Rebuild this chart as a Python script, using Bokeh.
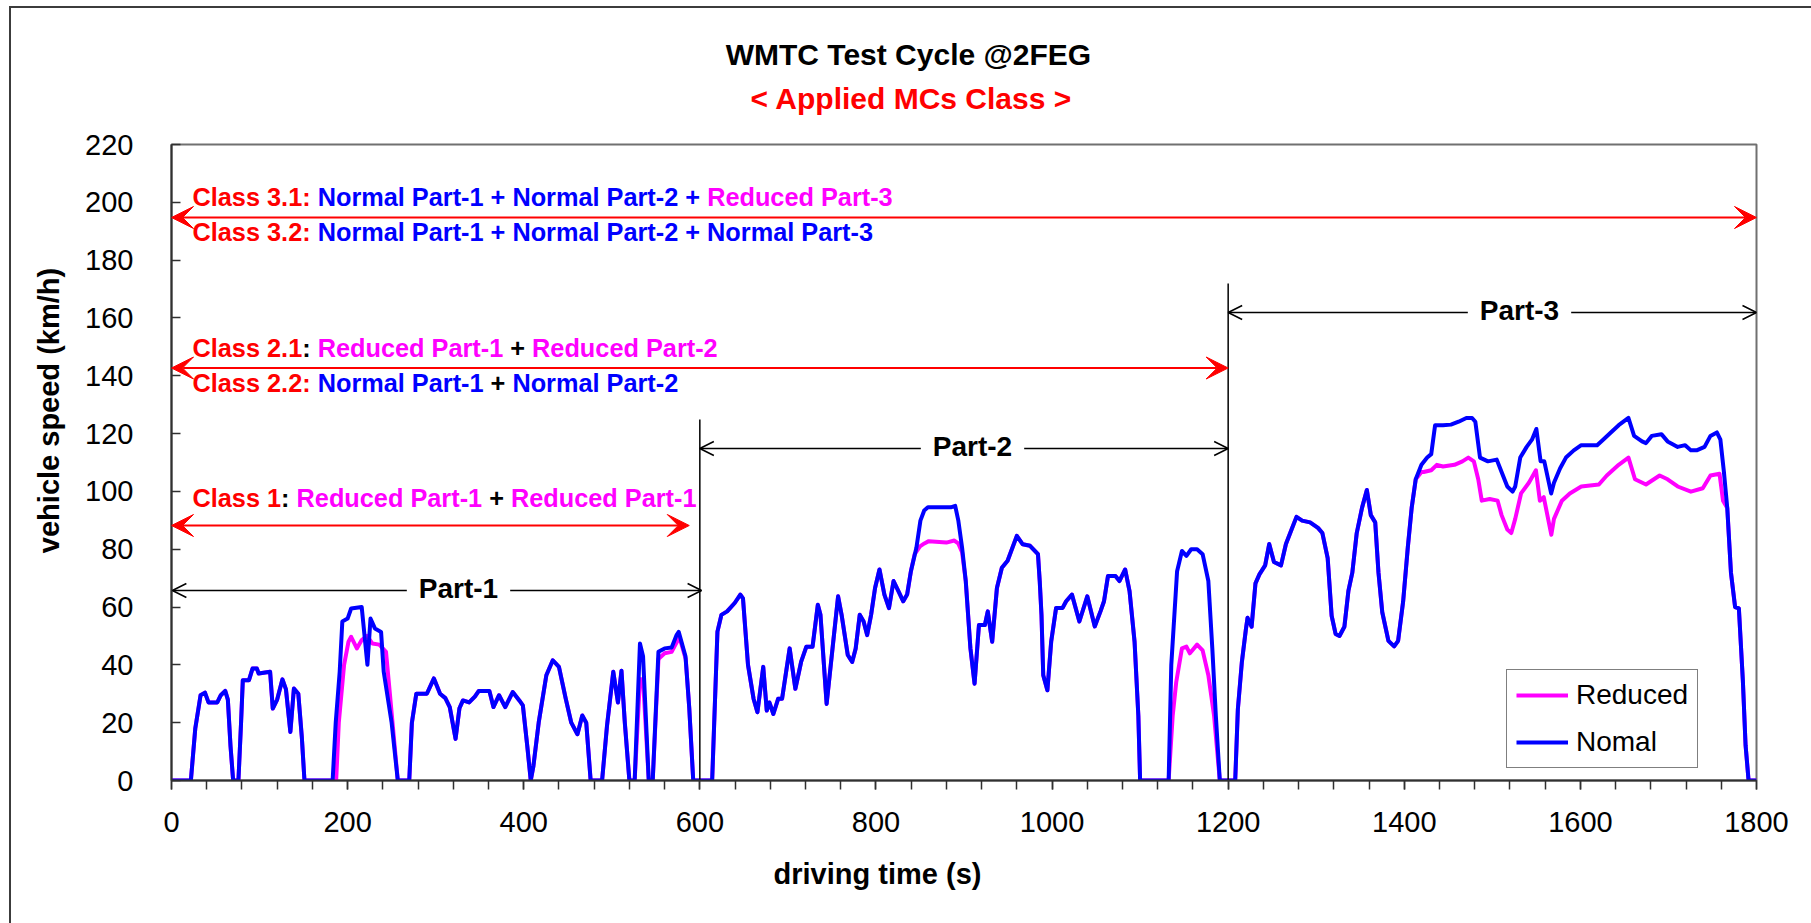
import math
from bokeh.plotting import figure
from bokeh.models import Range1d, FixedTicker, Label, Arrow, VeeHead, OpenHead, Title
from bokeh.embed import file_html
from bokeh.resources import INLINE

# ---------------- data ----------------
normal_t = [0, 22, 27, 33, 38, 42, 52, 56, 61, 64, 67, 70, 76, 79, 81, 88, 92, 97, 99, 112, 115, 120, 126, 130, 135, 139, 144, 148, 151,
            183, 186.5, 191, 194, 200, 204, 216, 222.5, 226, 231, 238, 241, 250, 257, 270, 273, 278, 290, 298, 305, 311, 316, 322.6,
            327, 331, 338, 344.5, 349, 361, 365.6, 372, 379, 387.5, 395, 399, 404, 408, 411, 417, 425.7, 433, 440, 447.7, 454, 461,
            466.5, 471, 476, 489, 494.6, 501.7, 507, 511, 514.8, 520, 526, 532, 535.5, 542, 546.5, 553, 560, 568, 573.6, 576, 583.7,
            588, 592.5, 614,
            620, 624.5, 631, 639.6, 646, 649, 654.7, 661, 665.4, 672, 676, 679, 683.5, 689, 693.4, 702, 708.5, 715, 721, 728, 734,
            737, 744, 751.5, 757, 761, 768, 773, 777, 781.6, 786, 790, 794.5, 799, 804, 809.6, 814.8, 820, 825.5, 831, 835.4, 839.7,
            846, 850.5, 854.8, 859, 885, 890, 893.5, 897.8, 902, 907.3, 912, 917, 923.7, 927, 932, 937.4, 943, 949.5, 960, 966.7,
            975, 984, 986, 988, 990, 994.7, 999, 1004.6, 1012, 1016, 1022.6, 1031, 1040, 1048.5, 1055, 1059, 1063.5, 1072, 1076.5,
            1083, 1088, 1093.7, 1098, 1100, 1132.4, 1135.4, 1142, 1147.5, 1152.6, 1158, 1164.7, 1171, 1177.5, 1182, 1186, 1190.5,
            1205.6, 1208, 1211, 1215.5, 1220, 1222, 1226.6, 1231, 1235.5, 1242, 1246.6, 1252, 1260, 1265.6, 1272, 1277.6, 1284, 1293,
            1302, 1307, 1313, 1317.5, 1322, 1326.4, 1332, 1336.6, 1341, 1346, 1352, 1357.5, 1362, 1367, 1370.7, 1375, 1382, 1388.5,
            1393, 1398.7, 1404, 1408.4, 1413, 1419.5, 1426, 1430.6, 1435, 1444, 1453, 1461.7, 1470.5, 1477, 1480.7, 1486, 1495,
            1505, 1510.5, 1517, 1523, 1526, 1531.7, 1539, 1545, 1550, 1554.8, 1559, 1566.8, 1570, 1577, 1583.6, 1592.5, 1601, 1619,
            1625.8, 1634.6, 1643.5, 1654.6, 1661, 1670, 1674.5, 1681, 1692, 1699, 1710.5, 1719, 1725.5, 1732, 1741, 1747.7, 1755,
            1759, 1763, 1766.8, 1771, 1775.7, 1780, 1784.5, 1787.6, 1791, 1800]
normal_v = [0, 0, 18, 29.5, 30.4, 27, 27, 29.5, 31, 28, 12, 0, 0, 20, 34.7, 34.7, 38.7, 38.7, 37, 37.6, 24.9, 28, 35, 31.5, 16.8, 31.8, 30, 15, 0,
            0, 20, 37.6, 55, 56, 59.5, 60, 40, 56, 52.6, 51.4, 37.6, 20, 0, 0, 20, 30, 30, 35.3, 30, 28.5, 25.4, 14.4,
            25, 27.7, 27, 29, 31, 31, 25.4, 29.5, 25.4, 30.6, 27.7, 26, 12, 0, 5, 20, 36.4, 41.6, 39.3, 28.3, 20, 16,
            22.5, 20, 0, 0, 19, 37.6, 27, 38, 20, 0, 0, 47.4, 43, 0, 0, 44.5, 45.7, 46, 50.3, 51.4, 43,
            25, 0, 0,
            51.5, 57.3, 58.5, 61.4, 64.3, 63, 40, 28.3, 23.6, 39.3, 24.2, 27, 23, 28.3, 28.3, 45.7, 31.7, 41, 46.3, 46.3, 60.8,
            57.3, 26.5, 48, 63.7, 57.3, 43.4, 41, 45.7, 57.3, 55, 50.3, 57.3, 66.6, 73, 64.3, 59.6, 69, 65.5, 62, 64.3, 72.4,
            80.6, 89.9, 93.4, 94.5, 94.5, 95, 90, 80.6, 69, 45.7, 33.5, 53.8, 53.8, 58.5, 48, 66.6, 73.6, 76, 84.6, 81.7,
            81.2, 78.3, 69, 57.3, 36.4, 31.2, 48, 59.7, 59.7, 62, 64.3, 55, 63.7, 53.3, 58.5, 62, 70.7, 70.7, 69,
            73, 65.5, 48, 22.4, 0, 0, 40, 72.4, 79.4, 77.7, 80, 80, 78.3, 69, 45.7, 22.4, 0,
            0, 0, 24.6, 40.8, 52, 56.3, 53.2, 68.2, 71.3, 74.4, 81.8, 75.6, 74.4, 81.8, 86.8, 91.2, 89.9, 89.3,
            87.4, 85.6, 76.9, 57, 50.7, 50, 53.2, 65.7, 71.9, 85.6, 94.3, 100.5, 91.8, 89.3, 71.9, 58.2, 48.3, 46.4,
            48.3, 61.9, 80.6, 94.3, 104.2, 109.2, 111.7, 112.9, 122.9, 122.9, 123.1, 124.1, 125.4, 125.4, 124.1, 111.7, 110.4,
            111, 106.7, 101.7, 99.9, 101.7, 111.7, 115.4, 117.9, 121.6, 110.4, 110.4, 99.3, 103, 108, 111.7, 114.2, 116, 116,
            117.9, 120.4, 122.9, 125.4, 119.2, 117.3, 116.7, 119.2, 119.8, 117.3, 115.4, 116, 114.2, 114.2, 115.4, 119.2, 120.4,
            117.9, 106.7, 94.3, 71.9, 60, 59.5, 34.6, 12.2, 0, 0]

reduced_t = [0, 22, 27, 33, 38, 42, 52, 56, 61, 64, 67, 70, 76, 79, 81, 88, 92, 97, 99, 112, 115, 120, 126, 130, 135, 139, 144, 148, 151,
             187, 190, 196, 201, 204, 210.5, 216, 222, 228, 236, 243.6, 248, 254, 257, 270, 273, 278, 290, 298, 305, 311, 316, 322.6,
             327, 331, 338, 344.5, 349, 361, 365.6, 372, 379, 387.5, 395, 399, 404, 408, 411, 417, 425.7, 433, 440, 447.7, 454, 461,
             466.5, 471, 476, 489, 494.6, 501.7, 507, 511, 514.8, 520, 526, 532, 535.5, 542, 546.5, 553, 560, 568, 574, 577, 584,
             588, 592.5, 614,
             620, 624.5, 631, 639.6, 646, 649, 654.7, 661, 665.4, 672, 676, 679, 683.5, 689, 693.4, 702, 708.5, 715, 721, 728, 734,
             737, 744, 751.5, 757, 761, 768, 773, 777, 781.6, 786, 790, 794.5, 799, 804, 809.6, 814.8, 820, 825.5, 831, 835.4, 839.7,
             844, 850, 855, 860, 880, 889, 893.5, 897.8, 902, 907.3, 912, 917, 923.7, 927, 932, 937.4, 943, 949.5, 960, 966.7,
             975, 984, 986, 988, 990, 994.7, 999, 1004.6, 1012, 1016, 1022.6, 1031, 1040, 1048.5, 1055, 1059, 1063.5, 1072, 1076.5,
             1083, 1088, 1093.7, 1098, 1100, 1132.4, 1137, 1141, 1147.5, 1152.6, 1156.5, 1164.7, 1171, 1177.5, 1184, 1190.5,
             1205.6, 1208, 1211, 1215.5, 1220, 1222, 1226.6, 1231, 1235.5, 1242, 1246.6, 1252, 1260, 1265.6, 1272, 1277.6, 1284, 1293,
             1302, 1307, 1313, 1317.5, 1322, 1326.4, 1332, 1336.6, 1341, 1346, 1352, 1357.5, 1362, 1367, 1370.7, 1375, 1382, 1388.5,
             1393, 1398.7, 1404, 1408.4, 1413, 1419.5, 1422, 1430.6, 1437, 1444, 1457, 1466, 1472.7, 1479, 1484, 1488, 1497,
             1506, 1510.5, 1517, 1521.5, 1526, 1532.6, 1541.5, 1549.5, 1554, 1558.4, 1567, 1570, 1579, 1588, 1601, 1621,
             1630, 1643.5, 1654.6, 1662, 1674.5, 1690, 1699, 1710.5, 1725.5, 1739, 1747.7, 1758, 1762,
             1766.8, 1771, 1775.7, 1780, 1784.5, 1787.6, 1791, 1800]
reduced_v = [0, 0, 18, 29.5, 30.4, 27, 27, 29.5, 31, 28, 12, 0, 0, 20, 34.7, 34.7, 38.7, 38.7, 37, 37.6, 24.9, 28, 35, 31.5, 16.8, 31.8, 30, 15, 0,
             0, 20, 40, 48, 49.7, 45.7, 48.6, 50, 47.4, 47, 44.5, 30, 10, 0, 0, 20, 30, 30, 35.3, 30, 28.5, 25.4, 14.4,
             25, 27.7, 27, 29, 31, 31, 25.4, 29.5, 25.4, 30.6, 27.7, 26, 12, 0, 5, 20, 36.4, 41.6, 39.3, 28.3, 20, 16,
             22.5, 20, 0, 0, 19, 37.6, 27, 38, 20, 0, 0, 35, 35, 0, 0, 42, 44, 44.5, 48, 49.5, 42,
             25, 0, 0,
             51.5, 57.3, 58.5, 61.4, 64.3, 63, 40, 28.3, 23.6, 39.3, 24.2, 27, 23, 28.3, 28.3, 45.7, 31.7, 41, 46.3, 46.3, 60.8,
             57.3, 26.5, 48, 63.7, 57.3, 43.4, 41, 45.7, 57.3, 55, 50.3, 57.3, 66.6, 73, 64.3, 59.6, 69, 65.5, 62, 64.3, 72.4,
             78.3, 81, 82, 82.8, 82.3, 83, 82, 79, 69, 45.7, 33.5, 53.8, 53.8, 58.5, 48, 66.6, 73.6, 76, 84.6, 81.7,
             81.2, 78.3, 69, 57.3, 36.4, 31.2, 48, 59.7, 59.7, 62, 64.3, 55, 63.7, 53.3, 58.5, 62, 70.7, 70.7, 69,
             73, 65.5, 48, 22.4, 0, 0, 22.4, 34, 45.7, 46.3, 44, 47, 45, 36.4, 22.4, 0,
             0, 0, 24.6, 40.8, 52, 56.3, 53.2, 68.2, 71.3, 74.4, 81.8, 75.6, 74.4, 81.8, 86.8, 91.2, 89.9, 89.3,
             87.4, 85.6, 76.9, 57, 50.7, 50, 53.2, 65.7, 71.9, 85.6, 94.3, 100.5, 91.8, 89.3, 71.9, 58.2, 48.3, 46.4,
             48.3, 61.9, 80.6, 94.3, 104.2, 106.7, 106.7, 107.3, 109.2, 108.6, 109.2, 110.4, 111.7, 110.4, 104.2, 96.8, 97.4,
             96.8, 91.8, 86.8, 85.6, 90.5, 99.3, 103, 107.3, 96.8, 98, 85, 90.5, 96.8, 99.3, 101.7, 102.4,
             105.5, 109.2, 111.7, 104.2, 102.4, 105.5, 104.2, 101.7, 99.9, 101.1, 105.5, 106.1, 96.8,
             94.3, 71.9, 60, 59.5, 34.6, 12.2, 0, 0]

x_ticks = [0, 200, 400, 600, 800, 1000, 1200, 1400, 1600, 1800]
x_minor_ticks = [0, 40, 80, 120, 160, 200, 240, 280, 320, 360, 400, 440, 480, 520, 560, 600, 640, 680, 720, 760, 800,
                 840, 880, 920, 960, 1000, 1040, 1080, 1120, 1160, 1200, 1240, 1280, 1320, 1360, 1400, 1440, 1480,
                 1520, 1560, 1600, 1640, 1680, 1720, 1760, 1800]
y_ticks = [0, 20, 40, 60, 80, 100, 120, 140, 160, 180, 200, 220]

part_bounds = [0, 600, 1200, 1800]
part_names = ["Part-1", "Part-2", "Part-3"]
series_names = ["Reduced", "Nomal"]

title_text = "WMTC Test Cycle @2FEG"
subtitle_text = "< Applied MCs Class >"
x_label = "driving time (s)"
y_label = "vehicle speed (km/h)"

# ---------------- layout ----------------
RED, BLUE, MAG, BLK = "#FF0000", "#0000FF", "#FF00FF", "#000000"
FONT = "Liberation Sans"
W, H = 1811, 923
BL, BT = 171, 144
FW, FH = 1585, 636
BR, BB = W - BL - FW, H - BT - FH
PX0, PY1 = BL, BT + FH  # page px of frame left / bottom


def tx(px):
    return (px - PX0) / FW * 1800.0


def vy(py):
    return (PY1 - py) / FH * 220.0


AB = {' ': 278, '+': 584, '-': 333, '.': 278, ':': 333, '(': 333, ')': 333, '/': 278, '@': 975, '<': 584, '>': 584,
      'A': 722, 'C': 722, 'E': 667, 'F': 611, 'G': 778, 'M': 833, 'N': 722, 'P': 667, 'R': 722, 'T': 611, 'W': 944,
      'a': 556, 'c': 556, 'd': 611, 'e': 556, 'l': 278, 'm': 889, 'o': 611, 'r': 389, 's': 556, 't': 333,
      'u': 611, 'i': 278, 'p': 611, 'y': 556, 'v': 556, 'n': 611, 'g': 611, 'h': 611, 'k': 556}
for _d in "0123456789":
    AB[_d] = 556


def bw(s, size):
    return sum(AB.get(c, 556) for c in s) / 1000.0 * size


p = figure(width=W, height=H, output_backend="svg", toolbar_location=None,
           x_range=Range1d(0, 1800), y_range=Range1d(0, 220),
           min_border_left=BL, min_border_right=BR, min_border_top=BT, min_border_bottom=BB)
p.background_fill_color = "white"
p.border_fill_color = "white"
p.border_fill_alpha = 0.0
p.styles = {"background": "linear-gradient(#3c3c3c, #3c3c3c) 9px 6px / 2px 100% no-repeat, "
                          "linear-gradient(#3c3c3c, #3c3c3c) 9px 6px / 100% 2px no-repeat, white"}
p.outline_line_color = "#707070"
p.outline_line_width = 2
p.xgrid.visible = False
p.ygrid.visible = False

xa = p.xaxis[0]
xa.ticker = FixedTicker(ticks=x_ticks, minor_ticks=x_minor_ticks)
xa.major_tick_in, xa.major_tick_out = 0, 9
xa.minor_tick_in, xa.minor_tick_out = 0, 9
xa.major_label_standoff = 22
ya = p.yaxis[0]
ya.ticker = FixedTicker(ticks=y_ticks, minor_ticks=[])
ya.major_tick_in, ya.major_tick_out = 9, 0
ya.minor_tick_in, ya.minor_tick_out = 0, 0
ya.major_label_standoff = 38
for ax in (xa, ya):
    ax.axis_line_color = "#303030"
    ax.axis_line_width = 2
    ax.major_tick_line_color = "#303030"
    ax.major_tick_line_width = 1.5
    ax.minor_tick_line_color = "#303030"
    ax.minor_tick_line_width = 1.5
    ax.major_label_text_font = FONT
    ax.major_label_text_font_size = "29px"
    ax.major_label_text_color = "black"

# series
p.line(reduced_t, reduced_v, line_color=MAG, line_width=4, line_join="round", legend_label=series_names[0])
p.line(normal_t, normal_v, line_color=BLUE, line_width=4, line_join="round", legend_label=series_names[1])

lg = p.legend[0]
lg.location = (1335, 12)
lg.label_text_font = FONT
lg.label_text_font_size = "28px"
lg.label_text_color = "black"
lg.glyph_width = 52
lg.glyph_height = 28
lg.label_height = 28
lg.spacing = 15
lg.padding = 9
lg.margin = 0
lg.label_standoff = 8
lg.border_line_color = "black"
lg.border_line_width = 1
lg.background_fill_color = "white"
lg.background_fill_alpha = 1.0

# part boundary lines
p.segment(x0=[part_bounds[1], part_bounds[2]], y0=[0, 0],
          x1=[part_bounds[1], part_bounds[2]], y1=[vy(419), vy(283)],
          line_color=BLK, line_width=1.5)

# part arrows with labels
part_rows = [(vy(590), part_bounds[0] + 1, part_bounds[1] + 2, tx(458)),
             (vy(448), part_bounds[1], part_bounds[2], tx(972)),
             (vy(312), part_bounds[2], part_bounds[3], tx(1519))]
PSZ = 28
for (yy, xs, xe, xc), name in zip(part_rows, part_names):
    half = (bw(name, PSZ) / 2 + 12) / FW * 1800
    p.add_layout(Arrow(x_start=xc - half, y_start=yy, x_end=xs, y_end=yy,
                       start=None, end=OpenHead(size=14, line_width=1.5, line_color=BLK),
                       line_color=BLK, line_width=1.5))
    p.add_layout(Arrow(x_start=xc + half, y_start=yy, x_end=xe, y_end=yy,
                       start=None, end=OpenHead(size=14, line_width=1.5, line_color=BLK),
                       line_color=BLK, line_width=1.5))
    p.add_layout(Label(x=xc, y=yy + 0.6, text=name, text_align="center", text_baseline="middle",
                       text_font=FONT, text_font_size=f"{PSZ}px", text_font_style="bold", text_color=BLK))

# class arrows (red double heads)
class_rows = [(vy(217), part_bounds[0], part_bounds[3]),
              (vy(367.5), part_bounds[0], part_bounds[2]),
              (vy(525), part_bounds[0], 588)]
for yy, xs, xe in class_rows:
    p.add_layout(Arrow(x_start=xs, y_start=yy, x_end=xe, y_end=yy,
                       start=VeeHead(size=22, fill_color=RED, line_color=RED, line_width=1),
                       end=VeeHead(size=22, fill_color=RED, line_color=RED, line_width=1),
                       line_color=RED, line_width=2))

# class texts (multi-coloured); y = vertical centre of the capitals
CSZ = 25.3
class_lines = [
    (196, [("Class 3.1: ", RED), ("Normal Part-1 + Normal Part-2 + ", BLUE), ("Reduced Part-3", MAG)]),
    (231, [("Class 3.2: ", RED), ("Normal Part-1 + Normal Part-2 + Normal Part-3", BLUE)]),
    (347, [("Class 2.1", RED), (": ", BLK), ("Reduced Part-1", MAG), (" + ", BLK), ("Reduced Part-2", MAG)]),
    (382, [("Class 2.2: ", RED), ("Normal Part-1", BLUE), (" + ", BLK), ("Normal Part-2", BLUE)]),
    (497.5, [("Class 1", RED), (": ", BLK), ("Reduced Part-1", MAG), (" + ", BLK), ("Reduced Part-1", MAG)]),
]
for mid_py, segs in class_lines:
    cur = 192.0
    for txt, col in segs:
        lead = len(txt) - len(txt.lstrip(' '))
        s = txt.strip()
        sx = cur + bw(' ' * lead, CSZ)
        p.add_layout(Label(x=tx(sx), y=vy(mid_py), text=s, text_align="left", text_baseline="middle",
                           text_font=FONT, text_font_size=f"{CSZ}px", text_font_style="bold", text_color=col))
        cur += bw(txt, CSZ)

# ---- titles: a blank spacer panel sits directly above the frame, then the red
# subtitle, then the main title (figure title, outermost)
p.add_layout(Title(text=" ", text_font=FONT, text_font_size="1px", standoff=23), "above")

p.add_layout(Title(text=subtitle_text, text_color=RED, text_font=FONT, text_font_size="30px",
                   text_font_style="bold", align="left", offset=911 - bw(subtitle_text, 30) / 2 - BL,
                   standoff=8), "above")

p.title.text = title_text
p.title.text_color = BLK
p.title.text_font = FONT
p.title.text_font_size = "30px"
p.title.text_font_style = "bold"
p.title.align = "left"
p.title.offset = 909 - bw(title_text, 30) / 2 - BL
p.title.standoff = 10

p.add_layout(Title(text=x_label, text_color=BLK, text_font=FONT, text_font_size="29px",
                   text_font_style="bold", align="left", offset=877 - bw(x_label, 29) / 2 - BL,
                   standoff=42), "below")
p.add_layout(Title(text=y_label, text_color=BLK, text_font=FONT, text_font_size="29px",
                   text_font_style="bold", align="left", offset=PY1 - (410 + bw(y_label, 29) / 2),
                   standoff=35), "left")

open("out.html", "w").write(file_html(p, INLINE))
